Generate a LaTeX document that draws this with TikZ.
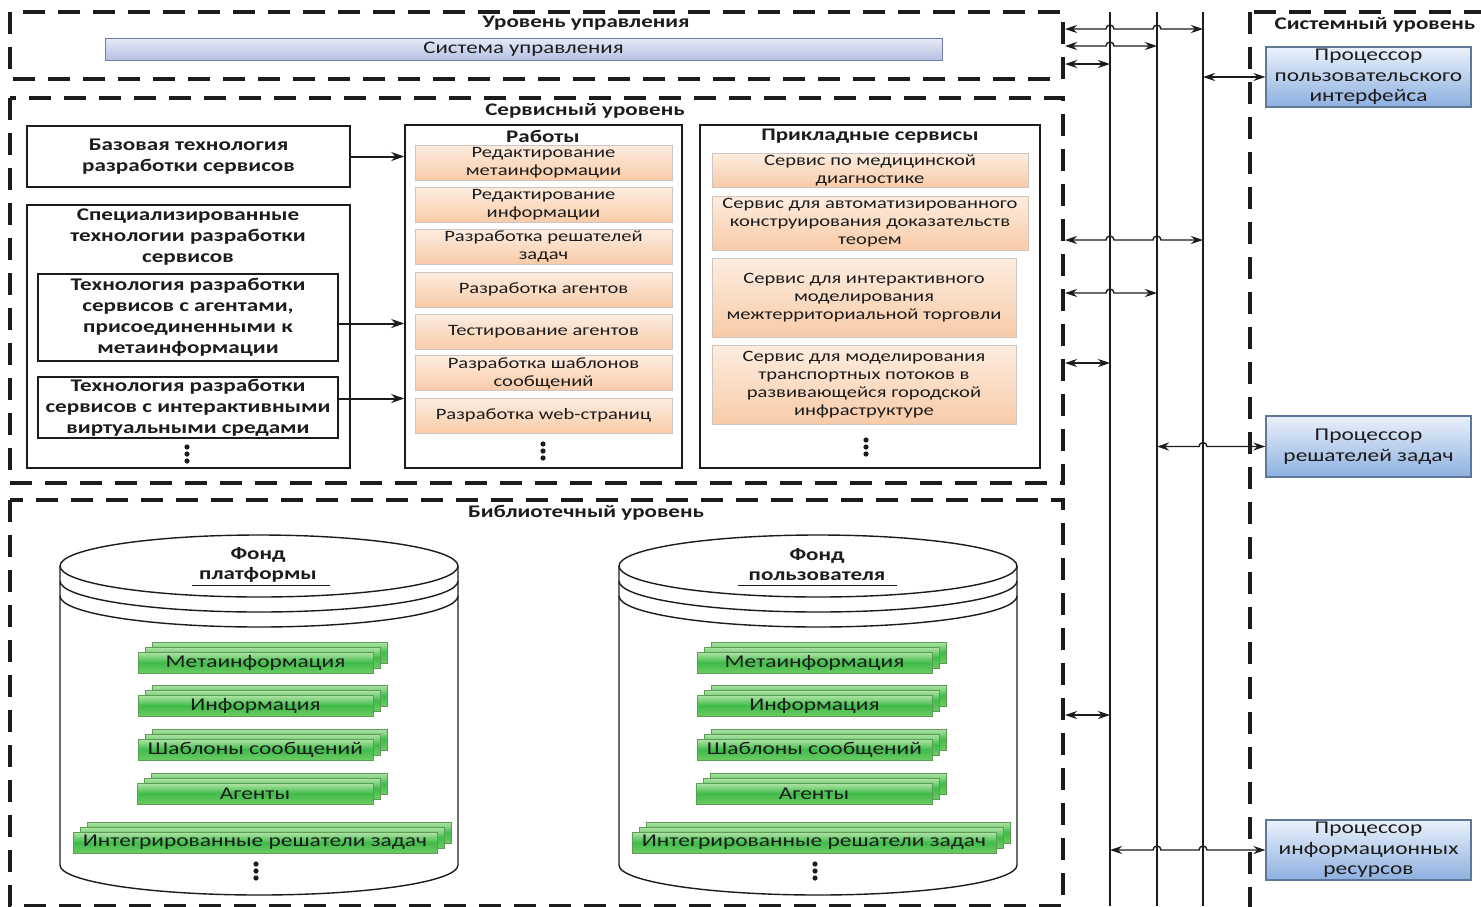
\documentclass[tikz,border=0pt]{standalone}
\usepackage{fontspec}
\setmainfont{Carlito}[FakeStretch=1.3]
\usetikzlibrary{arrows.meta,calc}
\definecolor{orT}{HTML}{FDEDE0}
\definecolor{orB}{HTML}{F8CBA8}
\definecolor{orD}{HTML}{CFC5BE}
\definecolor{blT}{HTML}{EAF1FB}
\definecolor{blB}{HTML}{8DB0E0}
\definecolor{blD}{HTML}{5F7897}
\definecolor{suT}{HTML}{E6EAF6}
\definecolor{suB}{HTML}{B6C1E4}
\definecolor{suD}{HTML}{6E7BA3}
\definecolor{grT}{HTML}{B4E5AA}
\definecolor{grM}{HTML}{40BC4A}
\definecolor{grB}{HTML}{6CCB64}
\definecolor{grD}{HTML}{5C9C55}
\definecolor{ink}{HTML}{1C1C1C}
\newcommand\FnTitle{\fontsize{17.7}{20}\selectfont\bfseries}
\newcommand\FnBold{\fontsize{17.8}{21}\selectfont\bfseries}
\newcommand\FnItem{\fontsize{15.8}{18}\selectfont}
\newcommand\FnProc{\fontsize{18}{20.5}\selectfont}
\newcommand\FnGreen{\fontsize{18}{20}\selectfont}
\newcommand\FnSys{\fontsize{17.6}{20}\selectfont}
\tikzset{
  layer/.style={draw=ink, line width=3.2pt, dash pattern=on 22pt off 13pt},
  bus/.style={draw=ink, line width=1.6pt},
  biarr/.style={draw=ink, line width=1.4pt, {Stealth[length=12pt,width=8pt]}-{Stealth[length=12pt,width=8pt]}},
  arr/.style={draw=ink, line width=2pt, -{Stealth[length=13pt,width=9pt]}},
  wbox/.style={draw=ink, line width=1.6pt, fill=white, inner sep=0pt, align=center, font=\FnBold, text=ink},
  item/.style={draw=orD, line width=0.8pt, top color=orT, bottom color=orB, inner sep=0pt, align=center, font=\FnItem, text=ink},
  proc/.style={draw=blD, line width=1.2pt, top color=blT, bottom color=blB, inner sep=0pt, align=center, font=\FnProc, text=ink},
  sysu/.style={draw=suD, line width=1pt, top color=suT, bottom color=suB, inner sep=0pt, align=center, font=\FnSys, text=ink},
  gbox/.style={draw=grD, line width=0.8pt, top color=grT, bottom color=grB, middle color=grM},
  ttl/.style={font=\FnTitle, text=ink, inner sep=1pt},
  cyl/.style={draw=ink, line width=1.4pt},
}
\newcommand\stackbox[6]{%
  \path[gbox] ({#2+14},{#4-10}) rectangle ({#3+14},{#5-10});
  \path[gbox] ({#2+7},{#4-5}) rectangle ({#3+7},{#5-5});
  \node[gbox, minimum width={(#3-#2)*1pt}, minimum height={(#5-#4)*1pt}, inner sep=0pt, font=\FnGreen, text=ink] (#1) at ({(#2+#3)/2},{(#4+#5)/2}) {#6};
}
\newcommand\dotsat[2]{%
  \foreach \dd in {-7,0,7} \fill[ink] (#1,{#2+\dd}) circle (2.6pt);
}
\newcommand\fund[5]{%
  \begin{scope}[xshift=#2pt]
    \draw[cyl] (60,566) -- (60,865) arc[start angle=180,end angle=360,x radius=199pt,y radius=30pt] -- (458,566);
    \draw[cyl] (259,566) ellipse[x radius=199pt,y radius=31pt];
    \draw[cyl] (60,581) arc[start angle=180,end angle=360,x radius=199pt,y radius=31pt];
    \draw[cyl] (60,596) arc[start angle=180,end angle=360,x radius=199pt,y radius=31pt];
    \node[ttl, align=center] (#1T) at (258,565) {Фонд\\#3};
    \draw[ink, line width=0.8pt] (#4,585) -- (#5,585);
    \stackbox{#1m}{138}{373}{652}{673}{Метаинформация}
    \stackbox{#1i}{138}{373}{695}{716}{Информация}
    \stackbox{#1s}{138}{373}{739}{760}{Шаблоны сообщений}
    \stackbox{#1a}{137}{373}{783}{804}{Агенты}
    \stackbox{#1r}{73}{437}{832}{853}{Интегрированные решатели задач}
    \dotsat{256}{871}
  \end{scope}
}
\begin{document}
\begin{tikzpicture}[x=1pt,y=-1pt]
\useasboundingbox (0,0) rectangle (1481,906);
\clip (0,0) rectangle (1481,906);
\fill[white] (0,0) rectangle (1481,906);

% layers
\draw[layer] (10,12) rectangle (1063,79);
\draw[layer] (10,98) rectangle (1063,483);
\draw[layer] (10,500) rectangle (1063,906);
\draw[layer] (1250,12) rectangle (1500,930);

\node[ttl] (tUpr) at (586,23) {Уровень управления};
\node[ttl] (tSrv) at (585,111) {Сервисный уровень};
\node[ttl] (tLib) at (586,513) {Библиотечный уровень};
\node[ttl] (tSys) at (1375,25) {Системный уровень};

\node[sysu, minimum width=837pt, minimum height=22pt] (su) at (523.5,49) {Система управления};

% service level, left
\node[wbox, minimum width=323pt, minimum height=61pt] (base) at (188.5,156.5) {Базовая технология\\разработки сервисов};
\node[wbox, minimum width=323pt, minimum height=263pt] (spec) at (188.5,336.5) {};
\node[font=\FnBold, text=ink, align=center] (specT) at (188,237) {Специализированные\\технологии разработки\\сервисов};
\node[wbox, minimum width=300pt, minimum height=87pt] (t1) at (188,317.5) {Технология разработки\\сервисов с агентами,\\присоединенными к\\метаинформации};
\node[wbox, minimum width=300pt, minimum height=61pt] (t2) at (188,407.5) {Технология разработки\\сервисов с интерактивными\\виртуальными средами};
\dotsat{187}{454}

% works
\node[wbox, minimum width=277pt, minimum height=343pt] (works) at (543.5,296.5) {};
\node[ttl] (worksT) at (543,136) {Работы};
\node[item, minimum width=257pt, minimum height=35pt] (w1) at (543.5,162.5) {Редактирование\\метаинформации};
\node[item, minimum width=257pt, minimum height=35pt] (w2) at (543.5,204.5) {Редактирование\\информации};
\node[item, minimum width=257pt, minimum height=35pt] (w3) at (543.5,246.5) {Разработка решателей\\задач};
\node[item, minimum width=257pt, minimum height=35pt] (w4) at (543.5,289.5) {Разработка агентов};
\node[item, minimum width=257pt, minimum height=35pt] (w5) at (543.5,331.5) {Тестирование агентов};
\node[item, minimum width=257pt, minimum height=35pt] (w6) at (543.5,373) {Разработка шаблонов\\сообщений};
\node[item, minimum width=257pt, minimum height=35pt] (w7) at (543.5,415.5) {Разработка web-страниц};
\dotsat{543}{451}

% applied services
\node[wbox, minimum width=340pt, minimum height=343pt] (apps) at (870,296.5) {};
\node[ttl] (appsT) at (870,136) {Прикладные сервисы};
\node[item, minimum width=316pt, minimum height=34pt] (p1) at (870,170) {Сервис по медицинской\\диагностике};
\node[item, minimum width=316pt, minimum height=54pt] (p2) at (870,223) {Сервис для автоматизированного\\конструирования доказательств\\теорем};
\node[item, minimum width=304pt, minimum height=79pt] (p3) at (864,297.5) {Сервис для интерактивного\\моделирования\\межтерриториальной торговли};
\node[item, minimum width=304pt, minimum height=79pt] (p4) at (864,384.5) {Сервис для моделирования\\транспортных потоков в\\развивающейся городской\\инфраструктуре};
\dotsat{866}{447}

% arrows into works
\coordinate (t1o) at ([yshift=-6pt]t1.east);
\coordinate (t2o) at ([yshift=9pt]t2.east);
\draw[arr] (base.east) -- (base.east -| works.west);
\draw[arr] (t1o) -- (t1o -| works.west);
\draw[arr] (t2o) -- (t2o -| works.west);

% library
\fund{L}{0}{платформы}{192}{330}
\fund{R}{559}{пользователя}{179}{338}

% processors
\node[proc, minimum width=205pt, minimum height=60pt] (ui) at (1368.5,77) {Процессор\\пользовательского\\интерфейса};
\node[proc, minimum width=205pt, minimum height=61pt] (solv) at (1368.5,446.5) {Процессор\\решателей задач};
\node[proc, minimum width=205pt, minimum height=60pt] (info) at (1368.5,850) {Процессор\\информационных\\ресурсов};

% buses
\coordinate (A0) at (1110,12); \coordinate (A1) at (1110,906);
\coordinate (B0) at (1157,12); \coordinate (B1) at (1157,906);
\coordinate (C0) at (1203,12); \coordinate (C1) at (1203,906);
\draw[bus] (A0) -- (A1);
\draw[bus] (B0) -- (B1);
\draw[bus] (C0) -- (C1);

% bus arrows from layers
\draw[biarr] (1065,29) -- (1106,29) arc[start angle=180,end angle=0,radius=4pt] -- (1153,29) arc[start angle=180,end angle=0,radius=4pt] -- (C0 |- 0,29);
\draw[biarr] (1065,46) -- (1106,46) arc[start angle=180,end angle=0,radius=4pt] -- (B0 |- 0,46);
\draw[biarr] (1065,64) -- (A0 |- 0,64);
\draw[biarr] (1065,240) -- (1106,240) arc[start angle=180,end angle=0,radius=4pt] -- (1153,240) arc[start angle=180,end angle=0,radius=4pt] -- (C0 |- 0,240);
\draw[biarr] (1065,293) -- (1106,293) arc[start angle=180,end angle=0,radius=4pt] -- (B0 |- 0,293);
\draw[biarr] (1065,363) -- (A0 |- 0,363);
\draw[biarr] (1065,715) -- (A0 |- 0,715);

% bus arrows to processors
\draw[biarr] (ui.west -| C0) -- (ui.west);
\draw[biarr] (solv.west -| B0) -- ($(solv.west -| C0)+(-4,0)$) arc[start angle=180,end angle=0,radius=4pt] -- (solv.west);
\draw[biarr] (info.west -| A0) -- ($(info.west -| B0)+(-4,0)$) arc[start angle=180,end angle=0,radius=4pt] -- ($(info.west -| C0)+(-4,0)$) arc[start angle=180,end angle=0,radius=4pt] -- (info.west);
\end{tikzpicture}
\end{document}
